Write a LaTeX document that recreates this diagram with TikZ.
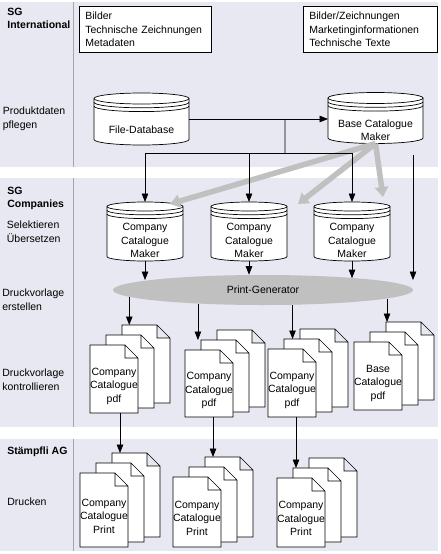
\documentclass[tikz,border=0pt]{standalone}
\usepackage{fontspec}
\setmainfont{Liberation Sans}
\usetikzlibrary{arrows.meta,shapes.geometric}

\definecolor{lanebg}{RGB}{231,232,241}
\definecolor{laneline}{RGB}{165,165,170}
\definecolor{flowgray}{RGB}{192,192,192}

% cylinder with two stripes under the lid
% #1 name, #2 x, #3 y, #4 half width, #5 half height, #6 lid radius, #7 text, #8 text drop
\newcommand\database[8]{%
  \draw[fill=white] (#2-#4,#3-#5+#6) -- (#2-#4,#3+#5-#6)
    arc[start angle=180,end angle=360,x radius=#4pt,y radius=#6pt]
    -- (#2+#4,#3-#5+#6)
    arc[start angle=0,end angle=180,x radius=#4pt,y radius=#6pt] -- cycle;
  \foreach \d in {0,3.8,7.6}
    \draw (#2-#4,#3-#5+#6+\d) arc[start angle=180,end angle=360,x radius=#4pt,y radius=#6pt];
  \node[shapebox,minimum width=2*#4pt,minimum height=2*#5pt] at (#2,#3) (#1) {};
  \node[shapetext] at (#2,#3+#8) (#1t) {#7};
}

% three pages, one behind the other
% #1 name, #2 x, #3 y (front page top left), #4 front height, #5 text, #6 text drop
\newcommand\docstack[6]{%
  \foreach \i/\p in {2/c,1/b,0/a} {
    \node[shapebox,minimum width=48pt,minimum height=#4pt+5pt*\i]
      at (#2+16*\i+24,#3+#4/2-7.5*\i) (#1\p) {};
    \draw[fill=white] (#1\p.north west) -- ([xshift=-13pt]#1\p.north east)
      -- ([yshift=-13pt]#1\p.north east) -- (#1\p.south east) -- (#1\p.south west) -- cycle
      ([xshift=-13pt]#1\p.north east) |- ([yshift=-13pt]#1\p.north east);
  }
  \node[shapetext] at ([yshift=-#6pt]#1a.center) (#1) {#5};
}

\begin{document}
\begin{tikzpicture}[x=1pt,y=-1pt,line width=0.7pt,
  font=\fontsize{10.5}{13.5}\selectfont,
  >={Triangle[width=6.5pt,length=8.5pt]},
  lanelabel/.style={anchor=north west,align=left,inner sep=0pt},
  lanehead/.style={lanelabel,font=\fontsize{10.5}{13.5}\selectfont\bfseries},
  infobox/.style={draw,fill=white,anchor=north west,align=left,inner xsep=6pt,inner ysep=0pt,minimum height=46pt},
  shapebox/.style={inner sep=0pt,outer sep=0pt},
  shapetext/.style={align=center,inner sep=0pt},
  feed/.style={flowgray,line width=5.5pt,-{Triangle[width=13pt,length=10pt]}}]
  \useasboundingbox (0,0) rectangle (441,554);

  % lanes
  \fill[lanebg] (0,2) rectangle (438,167);
  \fill[lanebg] (0,178) rectangle (438,427);
  \fill[lanebg] (0,439) rectangle (438,551);
  \foreach \t/\b in {2/167,178/427,439/551}
    \draw[laneline] (73,\t) -- (73,\b);

  \node[lanehead] at (7,7.5) (intl) {SG\\International};
  \node[lanelabel] at (2.5,107) (pflegen) {Produktdaten\\pflegen};
  \node[lanehead] at (7,186.5) (companies) {SG\\Companies};
  \node[lanelabel] at (6.5,221) (select) {Selektieren\\Übersetzen};
  \node[lanelabel] at (2,289) (erstellen) {Druckvorlage\\erstellen};
  \node[lanelabel] at (2,369) (kontrolle) {Druckvorlage\\kontrollieren};
  \node[lanehead] at (7,447) (staempfli) {Stämpfli AG};
  \node[lanelabel] at (7,498) (drucken) {Drucken};

  % sources
  \node[infobox,text width=120pt] at (79,6) (media) {Bilder\\Technische Zeichnungen\\Metadaten};
  \node[infobox,text width=122pt] at (303,6) (marketing) {Bilder/Zeichnungen\\Marketinginformationen\\Technische Texte};

  \database{fdb}{141.5}{119}{47.5}{26}{5.5}{File-Database}{11}
  \database{bcm}{375.5}{118}{47.5}{25.5}{5.5}{Base Catalogue\\Maker}{12}
  \database{ccm1}{145}{231.5}{38}{29.5}{4.5}{Company\\Catalogue\\Maker}{9}
  \database{ccm2}{249}{231.5}{38}{29.5}{4.5}{Company\\Catalogue\\Maker}{9}
  \database{ccm3}{352}{231.5}{38}{29.5}{4.5}{Company\\Catalogue\\Maker}{9}

  \node[ellipse,fill=flowgray,minimum width=300pt,minimum height=30pt,inner sep=0pt] at (263,290) (pg) {Print-Generator};

  \docstack{pdf1}{90}{345}{68}{Company\\Catalogue\\pdf}{7}
  \docstack{pdf2}{185}{350}{67}{Company\\Catalogue\\pdf}{7}
  \docstack{pdf3}{268}{349}{68}{Company\\Catalogue\\pdf}{7}
  \docstack{pdf4}{354}{342}{68}{Base\\Catalogue\\pdf}{7}
  \docstack{prn1}{80}{473}{74}{Company\\Catalogue\\Print}{6}
  \docstack{prn2}{173}{477}{70}{Company\\Catalogue\\Print}{6}
  \docstack{prn3}{277}{478}{69}{Company\\Catalogue\\Print}{6}

  % base catalogue feeds the company makers
  \draw[feed] (bcm.south) -- ([xshift=25pt,yshift=-2pt]ccm1.north);
  \draw[feed] (bcm.south) -- ([xshift=49pt,yshift=-2pt]ccm2.north);
  \draw[feed] (bcm.south) -- ([xshift=31pt,yshift=5pt]ccm3.north);

  % data flow
  \draw[->] (fdb.east) to node [pos=0.69,shape=coordinate] (split) {} (bcm.west |- fdb.east);
  \coordinate (bus) at (285,153);
  \draw (split) -- (bus);
  \draw[->] (bus) -| (ccm1.north);
  \draw[->] (bus) -| (ccm3.north);
  \draw[->] (ccm2.north |- bus) -- (ccm2.north);
  \coordinate (bcmout) at (413,155);
  \draw[->] (bcmout) -- ([yshift=10pt]pg.east -| bcmout);

  \draw[->] (ccm1.south) -- (ccm1.south |- pg.175.5);
  \draw[->] (ccm2.south) -- (ccm2.south |- pg.133.2);
  \draw[->] (ccm3.south) -- (ccm3.south |- pg.7.7);

  \draw[->] (pg.183.6) -- (pg.183.6 |- pdf1c.north);
  \draw[->] (pg.192.7) -- (pg.192.7 |- pdf2b.north);
  \draw[->] (pg.333.9) -- (pg.333.9 |- pdf3b.north);
  \draw[->] (pg.356.4) -- (pg.356.4 |- pdf4c.north);

  \draw[->] ([xshift=6pt]pdf1a.south) -- ([xshift=6pt]pdf1a.south |- prn1c.north);
  \draw[->] ([xshift=4pt]pdf2a.south) -- ([xshift=4pt]pdf2a.south |- prn2c.north);
  \draw[->] ([xshift=4pt]pdf3a.south) -- ([xshift=4pt]pdf3a.south |- prn3b.north);
\end{tikzpicture}
\end{document}
